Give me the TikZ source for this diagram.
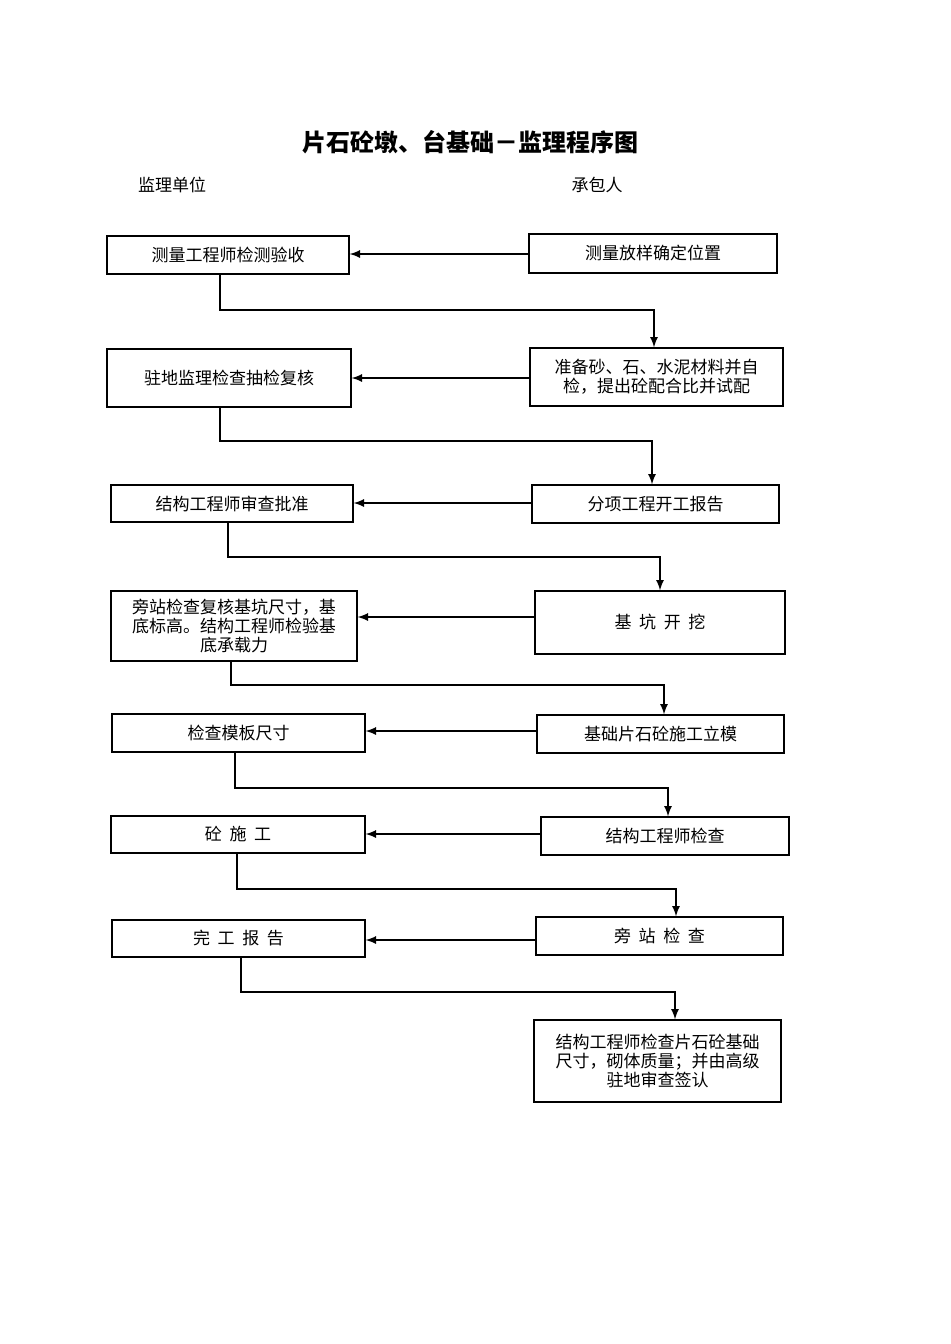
\documentclass[tikz,border=0pt]{standalone}
\usepackage{fontspec}
\setmainfont{Noto Sans CJK SC}
\begin{document}
\begin{tikzpicture}[x=0.5pt,y=-0.5pt,
 bx/.style={draw,line width=0.6pt,inner sep=0pt,font=\fontsize{8.5pt}{9.6pt}\selectfont,align=center},
 ar/.style={-latex,line width=0.8pt}]
\useasboundingbox (0,0) rectangle (950,1344);
\node[font=\bfseries\fontsize{12pt}{14pt}\selectfont] (t) at (470,142) {片石砼墩、台基础－监理程序图};
\node[font=\fontsize{8.5pt}{10pt}\selectfont] (la) at (172,185) {监理单位};
\node[font=\fontsize{8.5pt}{10pt}\selectfont] (lb) at (597,185) {承包人};
\newcommand{\bxat}[6]{\node[bx,minimum width=#4*0.5pt-#2*0.5pt,minimum height=#5*0.5pt-#3*0.5pt] (#1) at ({(#2+#4)/2},{(#3+#5)/2}) {#6};}
\bxat{L1}{107}{236}{349}{274}{测量工程师检测验收}
\bxat{L2}{107}{349}{351}{407}{驻地监理检查抽检复核}
\bxat{L3}{111}{485}{353}{522}{结构工程师审查批准}
\bxat{L4}{111}{591}{357}{661}{旁站检查复核基坑尺寸，基\\底标高。结构工程师检验基\\底承载力}
\bxat{L5}{112}{714}{365}{752}{检查模板尺寸}
\bxat{L6}{111}{816}{365}{853}{砼\ \ 施\ \ 工}
\bxat{L7}{112}{920}{365}{957}{完\ \ 工\ \ 报\ \ 告}
\bxat{R1}{529}{234}{777}{273}{测量放样确定位置}
\bxat{R2}{530}{348}{783}{406}{准备砂、石、水泥材料并自\\检，提出砼配合比并试配}
\bxat{R3}{532}{485}{779}{523}{分项工程开工报告}
\bxat{R4}{535}{591}{785}{654}{基\ \ 坑\ \ 开\ \ 挖}
\bxat{R5}{537}{715}{784}{753}{基础片石砼施工立模}
\bxat{R6}{541}{817}{789}{855}{结构工程师检查}
\bxat{R7}{536}{917}{783}{955}{旁\ \ 站\ \ 检\ \ 查}
\bxat{R8}{534}{1020}{781}{1102}{结构工程师检查片石砼基础\\尺寸，砌体质量；并由高级\\驻地审查签认}
\foreach \a/\b/\y in {R1/L1/254,R2/L2/378,R3/L3/503,R4/L4/617,R5/L5/731,R6/L6/834,R7/L7/940}
 \draw[ar] (\a.west|-0,\y) -- (\b.east|-0,\y);
\foreach \a/\b/\xa/\ym/\xb in {L1/R2/220/310/654,L2/R3/220/441/652,L3/R4/228/557/660,L4/R5/231/685/664,L5/R6/235/788/668,L6/R7/237/889/676,L7/R8/241/992/675}
 \draw[ar] (\a.south-|\xa,0) -- (\xa,\ym) -- (\xb,\ym) -- (\b.north-|\xb,0);
\end{tikzpicture}
\end{document}
